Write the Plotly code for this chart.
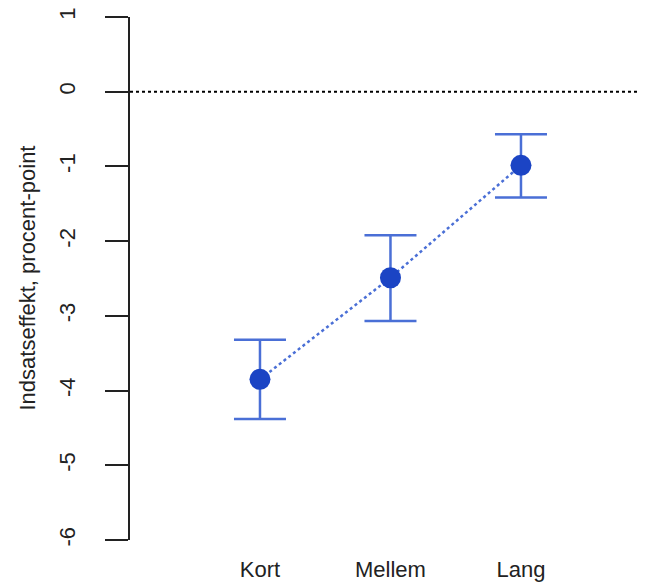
import plotly.graph_objects as go

categories = ["Kort", "Mellem", "Lang"]
x_pos = [1, 2, 3]
estimate = [-3.85, -2.49, -0.985]
lower = [-4.38, -3.07, -1.415]
upper = [-3.32, -1.92, -0.57]
y_ticks = [-6, -5, -4, -3, -2, -1, 0, 1]

err_plus = [u - e for u, e in zip(upper, estimate)]
err_minus = [e - l for e, l in zip(estimate, lower)]

FONT = "Liberation Sans, Arial, sans-serif"
LIGHT = "#4a6fd6"
DARK = "#1b44c4"

L, T, W, H, B = 122, 6, 638, 574, 41
PW = W - L

fig = go.Figure()
fig.add_trace(go.Scatter(
    x=x_pos, y=estimate, mode="lines",
    line=dict(color=LIGHT, width=2.5, dash="dot"),
    error_y=dict(type="data", symmetric=False, array=err_plus, arrayminus=err_minus,
                 color=LIGHT, thickness=2.5, width=26),
    hoverinfo="skip", showlegend=False,
))
fig.add_trace(go.Scatter(
    x=x_pos, y=estimate, mode="markers",
    marker=dict(color=DARK, size=21, line=dict(width=0)),
    showlegend=False,
))

fig.add_shape(type="line", xref="paper", x0=0, x1=1, yref="y", y0=0, y1=0,
              line=dict(color="black", width=2, dash="dot"), layer="below")

fig.add_annotation(text="Indsatseffekt, procent-point", xref="paper", yref="paper",
                   x=(19 - L) / PW, y=0.5, textangle=-90, showarrow=False,
                   font=dict(family=FONT, size=22, color="#222"),
                   xanchor="center", yanchor="middle")

fig.update_layout(
    width=W, height=H,
    margin=dict(l=L, r=0, t=T, b=B),
    paper_bgcolor="white", plot_bgcolor="white",
    font=dict(family=FONT, size=22, color="#222"),
    xaxis=dict(range=[0.004, 3.958], tickvals=x_pos, ticktext=categories,
               showline=False, showgrid=False, zeroline=False, ticks="",
               ticklabelstandoff=14,
               tickfont=dict(family=FONT, size=22, color="#222")),
    yaxis=dict(range=[-6, 1], tickvals=y_ticks, ticktext=[str(v) for v in y_ticks],
               showline=True, linecolor="#222", linewidth=2,
               ticks="outside", ticklen=23, tickwidth=2, tickcolor="#222",
               tickangle=-90, ticklabelstandoff=21, ticklabeloverflow="allow",
               showgrid=False, zeroline=False,
               tickfont=dict(family=FONT, size=22, color="#222")),
)

fig.write_html("out.html")
